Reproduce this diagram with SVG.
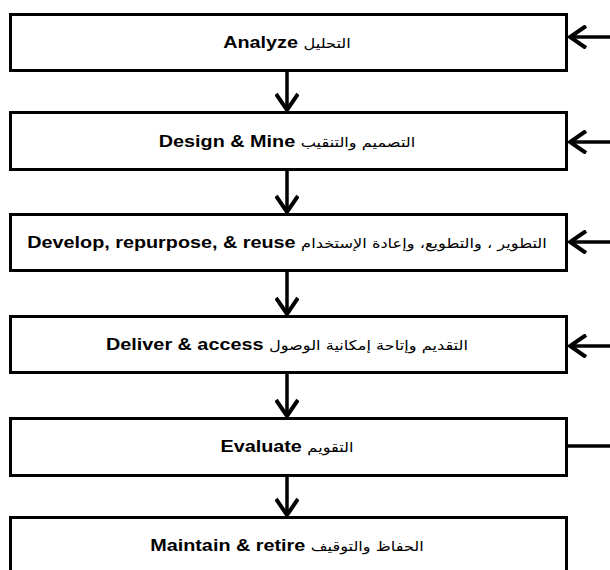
<svg xmlns="http://www.w3.org/2000/svg" width="610" height="570" viewBox="0 0 610 570">
  <style>
    .box { fill: #fff; stroke: #000; stroke-width: 3; }
    .lbl { font-family: "Liberation Sans", Arial, sans-serif; font-weight: bold; font-size: 16.5px; fill: #000; text-anchor: middle; }
    .ar { font-family: "DejaVu Sans", "Noto Sans", sans-serif; font-weight: normal; font-size: 13.5px; }
    .conn { stroke: #000; stroke-width: 3.5; fill: none; }
  </style>
  <defs>
    <marker id="chev" viewBox="0 0 20 24" refX="18" refY="12" markerWidth="20" markerHeight="24" markerUnits="userSpaceOnUse" orient="auto">
      <path d="M2,1 L18,12 L2,23" fill="none" stroke="#000" stroke-width="4"/>
    </marker>
  </defs>
  <rect width="610" height="570" fill="#fff"/>

  <g id="connectors">
    <!-- downward flow between stages -->
    <line class="conn" x1="287" y1="71" x2="287" y2="110" marker-end="url(#chev)"/>
    <line class="conn" x1="287" y1="170" x2="287" y2="212" marker-end="url(#chev)"/>
    <line class="conn" x1="287" y1="271" x2="287" y2="314" marker-end="url(#chev)"/>
    <line class="conn" x1="287" y1="373" x2="287" y2="416" marker-end="url(#chev)"/>
    <line class="conn" x1="287" y1="476" x2="287" y2="515" marker-end="url(#chev)"/>
    <!-- feedback from the right edge -->
    <line class="conn" x1="612" y1="37" x2="570" y2="37" marker-end="url(#chev)"/>
    <line class="conn" x1="612" y1="142" x2="570" y2="142" marker-end="url(#chev)"/>
    <line class="conn" x1="612" y1="242" x2="570" y2="242" marker-end="url(#chev)"/>
    <line class="conn" x1="612" y1="346" x2="570" y2="346" marker-end="url(#chev)"/>
    <line class="conn" x1="612" y1="446" x2="567" y2="446"/>
  </g>

  <!-- labels are set in a horizontally widened face -->
  <g id="analyze">
    <rect class="box" x="10.5" y="14.5" width="556" height="56"/>
    <text class="lbl" transform="translate(287,48) scale(1.2,1)">Analyze <tspan class="ar">التحليل</tspan></text>
  </g>
  <g id="design">
    <rect class="box" x="10.5" y="112.5" width="556" height="57"/>
    <text class="lbl" transform="translate(287,147) scale(1.2,1)">Design &amp; Mine <tspan class="ar">التصميم والتنقيب</tspan></text>
  </g>
  <g id="develop">
    <rect class="box" x="10.5" y="214.5" width="556" height="56"/>
    <text class="lbl" transform="translate(287,248) scale(1.2,1)">Develop, repurpose, &amp; reuse <tspan class="ar">التطوير ، والتطويع، وإعادة الإستخدام</tspan></text>
  </g>
  <g id="deliver">
    <rect class="box" x="10.5" y="316.5" width="556" height="56"/>
    <text class="lbl" transform="translate(287,350) scale(1.2,1)">Deliver &amp; access <tspan class="ar">التقديم وإتاحة إمكانية الوصول</tspan></text>
  </g>
  <g id="evaluate">
    <rect class="box" x="10.5" y="418.5" width="556" height="57"/>
    <text class="lbl" transform="translate(287,452) scale(1.2,1)">Evaluate <tspan class="ar">التقويم</tspan></text>
  </g>
  <g id="maintain">
    <rect class="box" x="10.5" y="517.5" width="556" height="62"/>
    <text class="lbl" transform="translate(287,551) scale(1.2,1)">Maintain &amp; retire <tspan class="ar">الحفاظ والتوقيف</tspan></text>
  </g>
</svg>
